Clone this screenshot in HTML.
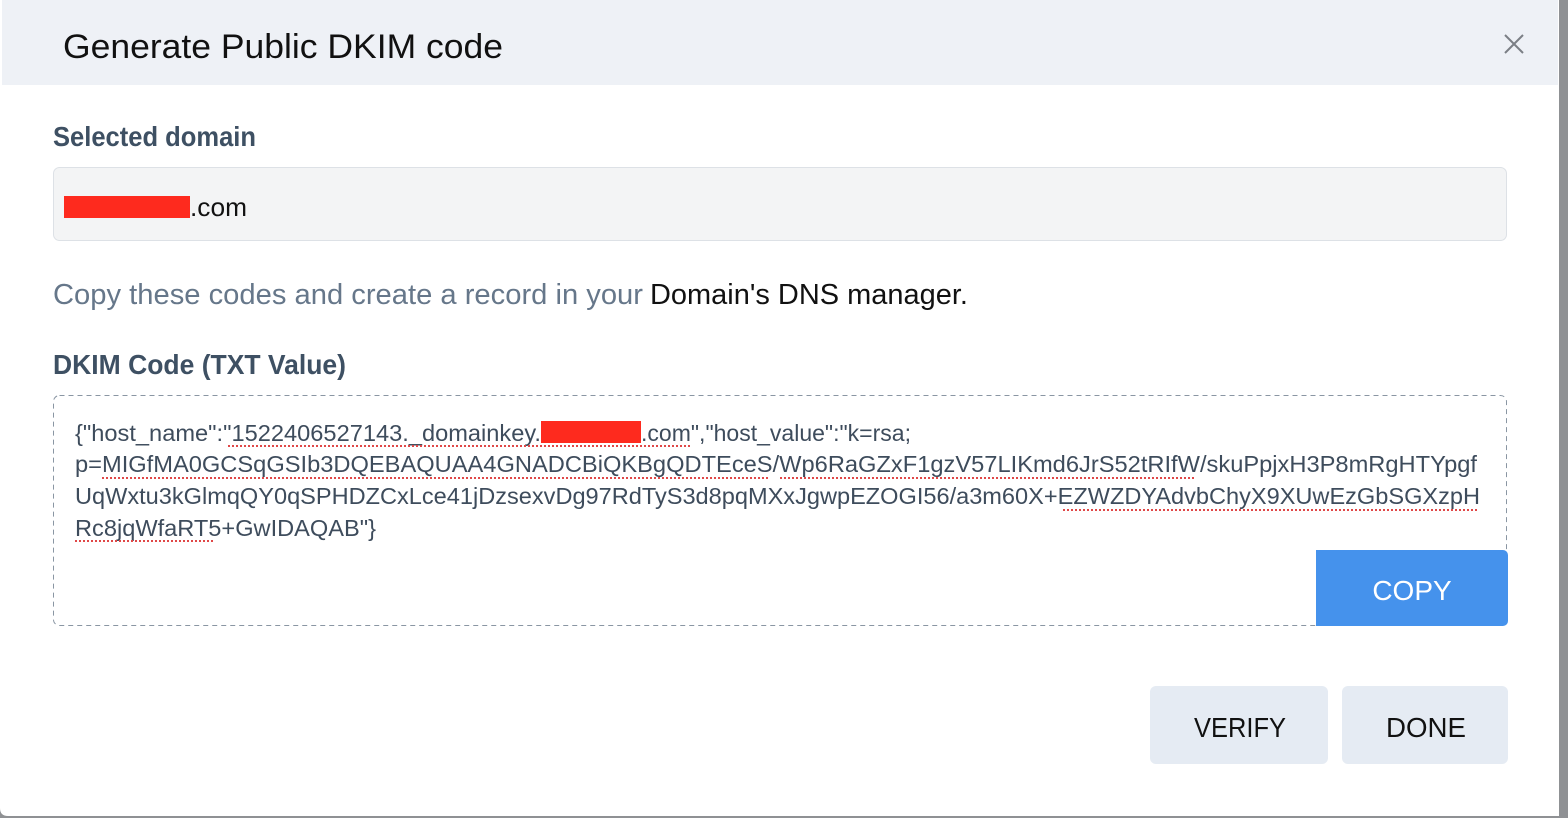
<!DOCTYPE html>
<html><head><meta charset="utf-8"><style>
html,body{margin:0;padding:0;width:1568px;height:818px;overflow:hidden;background:#8f9194}
svg{display:block}
text{font-family:"Liberation Sans",sans-serif}
</style></head><body>
<svg width="1568" height="818" viewBox="0 0 1568 818" xmlns="http://www.w3.org/2000/svg">
<rect x="0" y="0" width="1568" height="818" fill="#8f9194"/>
<path d="M0 0 H1559 V816 H8 Q0 816 0 808 Z" fill="#ffffff"/>
<rect x="2" y="0" width="1556" height="85" fill="#eef1f6"/>
<text x="63" y="58" font-size="34" fill="#111" textLength="440" lengthAdjust="spacingAndGlyphs">Generate Public DKIM code</text>
<path d="M1505 35 L1523 53 M1523 35 L1505 53" stroke="#7b7f85" stroke-width="2"/>
<text x="53" y="146" font-size="28" font-weight="bold" fill="#3e5063" textLength="203" lengthAdjust="spacingAndGlyphs">Selected domain</text>
<rect x="53.5" y="167.5" width="1453" height="73" rx="6" fill="#f3f4f5" stroke="#dde1e6"/>
<text x="190" y="216" font-size="26" fill="#111" textLength="57" lengthAdjust="spacingAndGlyphs">.com</text>
<rect x="64" y="196" width="126" height="22" fill="#fe2a1e"/>
<text x="53" y="304" font-size="29" fill="#66778a" textLength="590" lengthAdjust="spacingAndGlyphs">Copy these codes and create a record in your</text>
<text x="650" y="304" font-size="29" fill="#111" textLength="318" lengthAdjust="spacingAndGlyphs">Domain's DNS manager.</text>
<text x="53" y="374" font-size="28" font-weight="bold" fill="#3e5063" textLength="293" lengthAdjust="spacingAndGlyphs">DKIM Code (TXT Value)</text>
<rect x="53.5" y="395.5" width="1453" height="230" rx="6" fill="#fff" stroke="#8a96a3" stroke-dasharray="5,4"/>
<g font-size="23" fill="#3e4c5c">
<text x="75" y="441" textLength="466" lengthAdjust="spacingAndGlyphs">{"host_name":"1522406527143._domainkey.</text>
<text x="641" y="441" textLength="270" lengthAdjust="spacingAndGlyphs">.com","host_value":"k=rsa;</text>
<text x="75" y="472" textLength="1402" lengthAdjust="spacingAndGlyphs">p=MIGfMA0GCSqGSIb3DQEBAQUAA4GNADCBiQKBgQDTEceS/Wp6RaGZxF1gzV57LIKmd6JrS52tRIfW/skuPpjxH3P8mRgHTYpgf</text>
<text x="75" y="504" textLength="1405" lengthAdjust="spacingAndGlyphs">UqWxtu3kGlmqQY0qSPHDZCxLce41jDzsexvDg97RdTyS3d8pqMXxJgwpEZOGI56/a3m60X+EZWZDYAdvbChyX9XUwEzGbSGXzpH</text>
<text x="75" y="536" textLength="301" lengthAdjust="spacingAndGlyphs">Rc8jqWfaRT5+GwIDAQAB"}</text>
</g>
<rect x="541" y="421" width="100" height="22" fill="#fe2a1e"/>
<g stroke="#e04848" stroke-width="2" stroke-dasharray="2,2" fill="none">
<path d="M228 446 H690"/><path d="M102 478 H770"/><path d="M780 478 H1195"/><path d="M1063 510 H1478"/><path d="M75 541 H215"/>
</g>
<rect x="1316" y="550" width="192" height="76" rx="5" fill="#4592ec"/>
<rect x="1316" y="550" width="10" height="76" fill="#4592ec"/>
<text x="1412" y="600" font-size="28" fill="#fff" text-anchor="middle">COPY</text>
<rect x="1150" y="686" width="178" height="78" rx="6" fill="#e5ebf3"/>
<text x="1240" y="737" font-size="28" fill="#111" text-anchor="middle" textLength="92" lengthAdjust="spacingAndGlyphs">VERIFY</text>
<rect x="1342" y="686" width="166" height="78" rx="6" fill="#e5ebf3"/>
<text x="1426" y="737" font-size="28" fill="#111" text-anchor="middle" textLength="80" lengthAdjust="spacingAndGlyphs">DONE</text>
</svg>
</body></html>
